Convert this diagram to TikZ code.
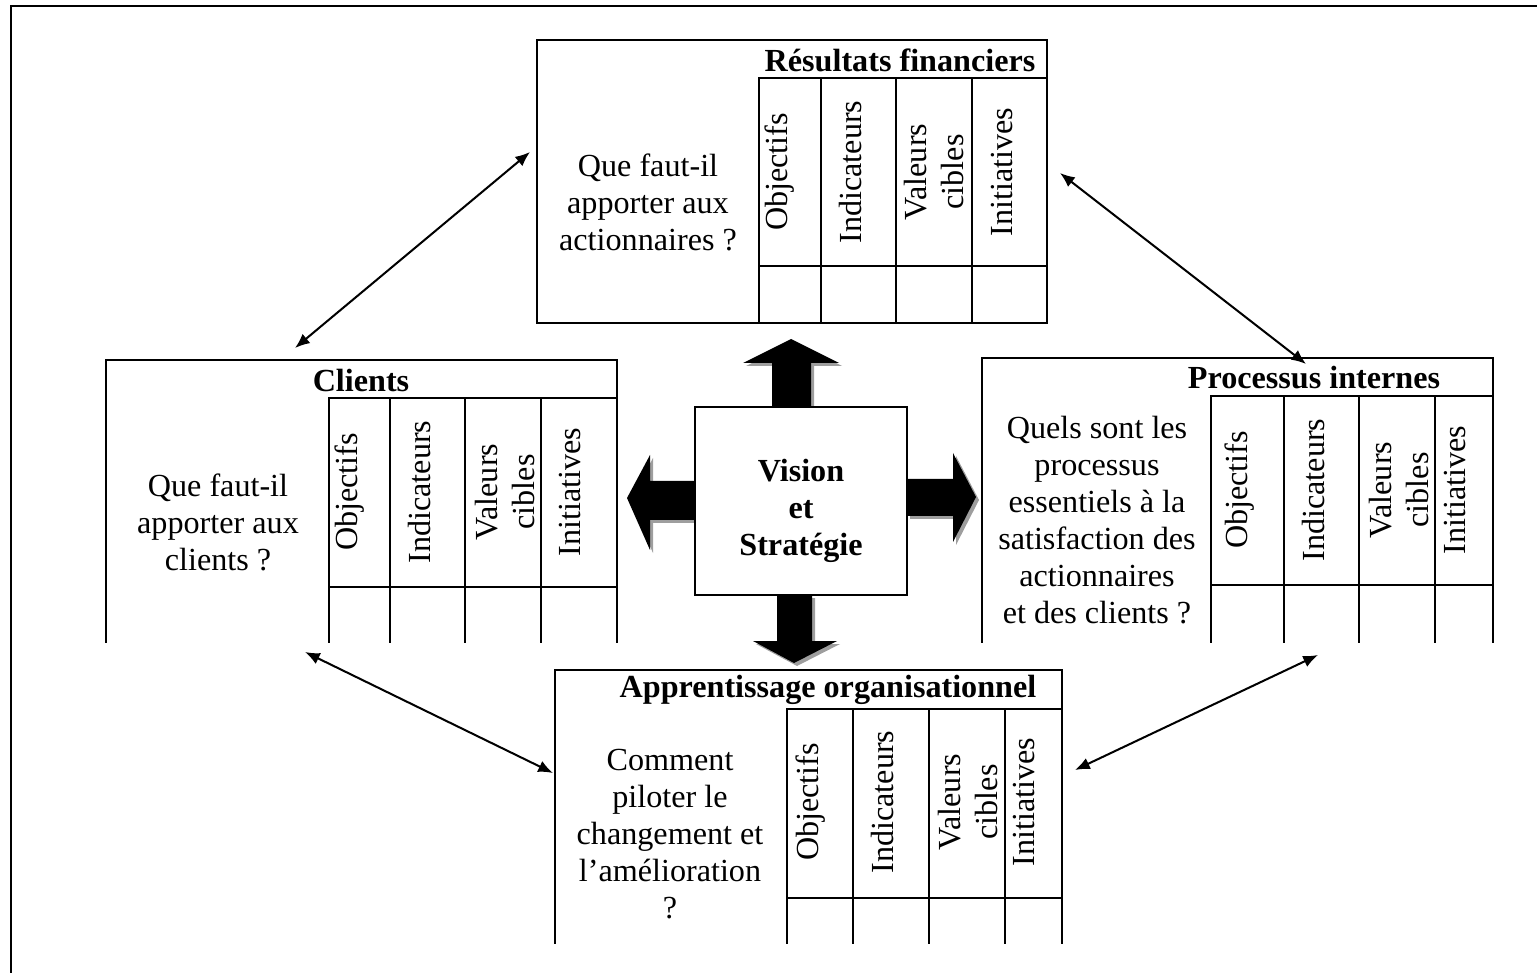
\documentclass[tikz,border=0pt]{standalone}
\usepackage{fontspec}
\setmainfont{Liberation Serif}
\usetikzlibrary{arrows.meta}
\newcommand\qfont{\fontsize{12}{13.8}\selectfont}
\begin{document}
\begin{tikzpicture}[x=0.3731pt,y=-0.3731pt,
  frame/.style={line width=0.8pt, line cap=rect},
  qtext/.style={align=center, font=\qfont, inner sep=0pt},
  vtext/.style={rotate=90, align=center, font=\qfont, inner sep=0pt},
  htext/.style={font=\qfont\bfseries, inner sep=0pt},
  ctext/.style={align=center, font=\qfont\bfseries, inner sep=0pt},
  link/.style={line width=0.75pt, {Latex[length=5.5pt,width=4.5pt]}-{Latex[length=5.5pt,width=4.5pt]}},
  barrow/.style={fill=black},
  sarrow/.style={fill=black!38}]
\useasboundingbox (0,0) rectangle (1537,973);
% outer frame
\draw[frame] (11,973) -- (11,6) -- (1537,6);

% ---------- block arrows (shadows first) ----------
\begin{scope}[shift={(3,3)}]
\fill[sarrow] (772,407) -- (772,363) -- (743,363) -- (791,339) -- (839,363) -- (811,363) -- (811,407) -- cycle;
\fill[sarrow] (777,595) -- (777,641) -- (753,641) -- (794,663) -- (837,641) -- (812,641) -- (812,595) -- cycle;
\fill[sarrow] (695,481) -- (650,481) -- (650,455) -- (627,498) -- (650,550) -- (650,520) -- (695,520) -- cycle;
\fill[sarrow] (907,479) -- (953,479) -- (953,453) -- (976,497) -- (953,542) -- (953,516) -- (907,516) -- cycle;
\end{scope}
\fill[barrow] (772,407) -- (772,363) -- (743,363) -- (791,339) -- (839,363) -- (811,363) -- (811,407) -- cycle;
\fill[barrow] (777,595) -- (777,641) -- (753,641) -- (794,663) -- (837,641) -- (812,641) -- (812,595) -- cycle;
\fill[barrow] (695,481) -- (650,481) -- (650,455) -- (627,498) -- (650,550) -- (650,520) -- (695,520) -- cycle;
\fill[barrow] (907,479) -- (953,479) -- (953,453) -- (976,497) -- (953,542) -- (953,516) -- (907,516) -- cycle;

% ---------- centre box ----------
\draw[frame, fill=white] (695,407) rectangle (907,595);
\node[ctext] (vision) at (801,511) {Vision\\et\\Stratégie};

% ---------- Résultats financiers ----------
\draw[frame] (537,40) rectangle (1047,323);
\draw[frame] (759,78) -- (1047,78);
\draw[frame] (759,266) -- (1047,266);
\foreach \x in {759,821,896,972} \draw[frame] (\x,78) -- (\x,323);
\node[htext] (rfh) at (900,60) {Résultats financiers};
\node[qtext] (rfq) at (648,202) {Que faut-il\\apporter aux\\actionnaires ?};
\node[vtext] (rf1) at (780,172) {Objectifs};
\node[vtext] (rf2) at (850,172) {Indicateurs};
\node[vtext] (rf3) at (934,172) {Valeurs\\cibles};
\node[vtext] (rf4) at (1002,172) {Initiatives};

% ---------- Clients ----------
\draw[frame] (106,642) -- (106,360) -- (617,360) -- (617,642);
\draw[frame] (329,398) -- (617,398);
\draw[frame] (329,587) -- (617,587);
\foreach \x in {329,390,465,541} \draw[frame] (\x,398) -- (\x,642);
\node[htext] (clh) at (361,380) {Clients};
\node[qtext] (clq) at (218,522) {Que faut-il\\apporter aux\\clients ?};
\node[vtext] (cl1) at (350,492) {Objectifs};
\node[vtext] (cl2) at (419,492) {Indicateurs};
\node[vtext] (cl3) at (505,492) {Valeurs\\cibles};
\node[vtext] (cl4) at (570,492) {Initiatives};

% ---------- Processus internes ----------
\draw[frame] (982,642) -- (982,358) -- (1493,358) -- (1493,642);
\draw[frame] (1211,396) -- (1493,396);
\draw[frame] (1211,585) -- (1493,585);
\foreach \x in {1211,1284,1359,1435} \draw[frame] (\x,396) -- (\x,642);
\node[htext] (pih) at (1314,378) {Processus internes};
\node[qtext] (piq) at (1097,520) {Quels sont les\\processus\\essentiels à la\\satisfaction des\\actionnaires\\et des clients ?};
\node[vtext] (pi1) at (1240,490) {Objectifs};
\node[vtext] (pi2) at (1313,490) {Indicateurs};
\node[vtext] (pi3) at (1399,490) {Valeurs\\cibles};
\node[vtext] (pi4) at (1455,490) {Initiatives};

% ---------- Apprentissage organisationnel ----------
\draw[frame] (555,943) -- (555,670) -- (1062,670) -- (1062,943);
\draw[frame] (787,709) -- (1062,709);
\draw[frame] (787,898) -- (1062,898);
\foreach \x in {787,853,929,1005} \draw[frame] (\x,709) -- (\x,943);
\node[htext] (aoh) at (828,690) {Apprentissage organisationnel};
\node[qtext] (aoq) at (670,834) {Comment\\piloter le\\changement et\\l’amélioration\\?};
\node[vtext] (ao1) at (811,802) {Objectifs};
\node[vtext] (ao2) at (882,802) {Indicateurs};
\node[vtext] (ao3) at (968,802) {Valeurs\\cibles};
\node[vtext] (ao4) at (1024,802) {Initiatives};

% ---------- double arrows ----------
\coordinate (rfL) at (530,152);
\coordinate (clT) at (295,348);
\coordinate (rfR) at (1060,173);
\coordinate (piT) at (1306,364);
\coordinate (clB) at (305,652);
\coordinate (aoL) at (553,773);
\coordinate (aoR) at (1075,770);
\coordinate (piB) at (1318,655);
\draw[link] (rfL) -- (clT);
\draw[link] (rfR) -- (piT);
\draw[link] (clB) -- (aoL);
\draw[link] (aoR) -- (piB);
\end{tikzpicture}
\end{document}
